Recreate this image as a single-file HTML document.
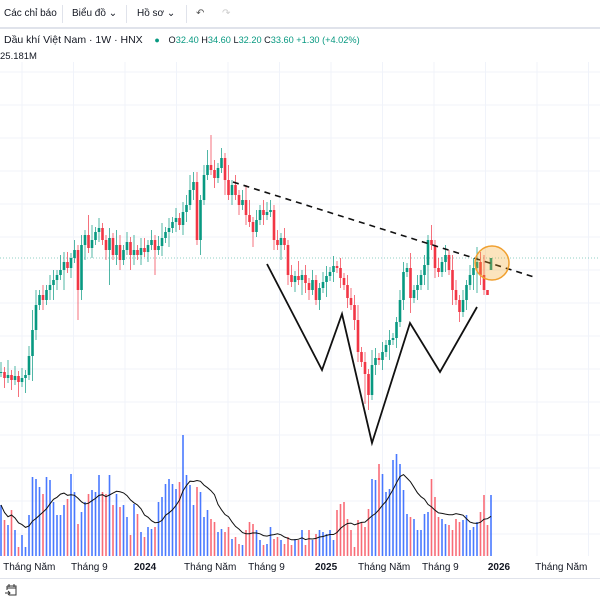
<!DOCTYPE html>
<html><head><meta charset="utf-8">
<style>
html,body{margin:0;padding:0;background:#fff;}
body{width:600px;height:600px;overflow:hidden;position:relative;font-family:"Liberation Sans",sans-serif;color:#131722;}
.tb{position:absolute;top:0;left:0;width:600px;height:27px;border-bottom:2px solid #e0e3eb;font-size:10px;}
.tb span{position:absolute;top:8px;}
.sep{position:absolute;top:5px;width:1px;height:18px;background:#e0e3eb;}
.leg{position:absolute;top:34px;left:4px;font-size:10.5px;white-space:nowrap;}
.g{color:#089981;font-size:9.2px;}
.k{color:#131722;font-size:9.2px;}
svg{position:absolute;left:0;top:0;}
</style></head><body>
<div class="tb">
  <span style="left:4px">Các chỉ báo</span>
  <div class="sep" style="left:62px"></div>
  <span style="left:72px">Biểu đồ ⌄</span>
  <div class="sep" style="left:126px"></div>
  <span style="left:137px">Hồ sơ ⌄</span>
  <div class="sep" style="left:186px"></div>
  <span style="left:196px;color:#555">↶</span>
  <span style="left:222px;color:#ccc">↷</span>
</div>
<div class="leg">Dầu khí Việt Nam · 1W · HNX &nbsp;&nbsp;&nbsp;<span style="color:#089981;font-size:9px">●</span>&nbsp;&nbsp;&nbsp;<span class="k">O</span><span class="g">32.40 </span><span class="k">H</span><span class="g">34.60 </span><span class="k">L</span><span class="g">32.20 </span><span class="k">C</span><span class="g">33.60 +1.30 (+4.02%)</span></div>
<div style="position:absolute;top:51px;left:0;font-size:9.5px">25.181M</div>
<svg id="c" width="600" height="600"></svg>
<div style="position:absolute;left:0;top:578px;width:600px;height:1px;background:#e0e3eb"></div>
<svg style="left:4px;top:583px" width="14" height="14" viewBox="0 0 14 14"><path d="M3 3h9v9H5M3 3v4M5 1v3M10 1v3M3 5h9M1 10h5M4 8l2 2-2 2" fill="none" stroke="#333" stroke-width="1"/></svg>
<script>
const closes=[22.2,21.6,21.9,21.4,21.8,21.2,21.6,21.9,23.8,26.4,28.9,29.9,29.4,30.4,30.9,31.4,31.9,32.4,33.2,32.6,33.6,34.4,30.4,34.9,35.9,34.6,35.4,36.2,36.6,35.4,34.4,35.6,33.9,34.9,33.4,34.4,35.2,33.9,34.4,33.9,34.6,34.2,34.9,35.4,34.4,34.8,35.6,36.2,36.6,37.2,37.6,36.9,38.2,38.9,40.4,41.2,35.4,39.4,41.9,42.9,42.4,41.6,42.6,43.6,41.4,39.9,40.9,39.9,38.9,39.4,37.9,37.2,36.2,37.4,38.4,37.9,38.2,38.4,35.4,34.9,35.6,34.9,31.9,31.2,31.8,31.4,31.9,31.1,30.4,31.4,29.4,30.6,31.2,31.8,32.2,32.8,32.6,31.6,30.9,29.6,28.9,27.4,24.2,23.2,22.0,19.9,22.9,23.6,23.4,24.2,24.9,25.4,25.6,27.2,29.4,32.2,32.6,29.6,30.4,30.9,31.9,32.9,35.4,34.9,32.6,32.2,33.2,33.9,32.4,30.4,29.4,28.2,29.4,30.9,31.9,32.6,33.2,31.9,30.4,29.9,33.6];
const wickUp="2131212124312122132212121431211213212131221212312121223221236212131212331212221212121312121122121212223121321212112213121213121213212122324";
const wickDn="1212131315212123214121623121212712211321212151213121221213111211312121213112112131212132211213121212122163121213121213121251211213121213521";
const vols=[51,36,31,46,26,9,21,9,41,79,77,69,62,79,76,54,41,41,51,57,82,64,32,44,54,62,66,64,81,64,62,81,51,62,49,51,39,21,52,42,24,19,29,27,29,54,59,72,77,72,67,74,121,81,71,51,69,64,39,46,37,34,24,27,24,29,17,19,12,11,26,34,32,26,16,11,12,29,17,19,16,12,19,11,17,16,26,11,26,16,22,26,24,22,26,16,46,52,54,37,26,9,36,34,29,47,77,76,92,82,64,67,96,102,92,66,42,39,37,26,26,42,44,77,59,39,37,32,31,26,37,34,36,41,26,29,34,44,61,31,61];
const xLabels=["Tháng Năm","Tháng 9","2024","Tháng Năm","Tháng 9","2025","Tháng Năm","Tháng 9","2026","Tháng Năm"];
const xLabelWeek=[0.6,20,38,52.3,70.6,89.7,102,120.3,139.1,152.6];
const lastOpen=32.40;

const svg=document.getElementById('c');const NS="http://www.w3.org/2000/svg";
function mk(t,a,p){const e=document.createElementNS(NS,t);for(const k in a)e.setAttribute(k,a[k]);(p||svg).appendChild(e);return e;}
const X=i=>1+i*3.5;
const Y=p=>258-(p-33.6)*10;
const VY=v=>556-v;
for(let gx=22;gx<600;gx+=51.5){const l=mk('line',{x1:gx,y1:62,x2:gx,y2:556,stroke:'#f0f3fa','stroke-width':1});}
for(let gy=72;gy<556;gy+=33){const l=mk('line',{x1:0,y1:gy,x2:600,y2:gy,stroke:'#f0f3fa','stroke-width':1});}
const pl=mk('line',{x1:0,y1:Y(closes[closes.length-1]),x2:600,y2:Y(closes[closes.length-1]),stroke:'#089981','stroke-width':0.8,'stroke-dasharray':'1 2',opacity:0.6});

for(let i=0;i<vols.length;i++){
  const o=i==closes.length-1?lastOpen:(i?closes[i-1]:closes[0]);const up=closes[i]>=o;
  const r=mk('rect',{x:X(i)-0.8,y:VY(vols[i]),width:1.6,height:vols[i],fill:up?'#2962ff':'#f7525f',opacity:0.85});
  
}
let pts=[];for(let i=0;i<vols.length;i++){const s=vols.slice(Math.max(0,i-9),i+1);const m=s.reduce((a,b)=>a+b,0)/s.length;pts.push(X(i).toFixed(1)+','+VY(m).toFixed(1));}
const ma=mk('polyline',{points:pts.join(' '),fill:'none',stroke:'#111','stroke-width':1});

for(let i=0;i<closes.length;i++){
  const o=i==closes.length-1?lastOpen:(i?closes[i-1]:closes[0]);const c=closes[i];const up=c>=o;
  const col=up?'#089981':'#f23645';
  const hi=Math.max(o,c)+(+wickUp[i])*0.5,lo=Math.min(o,c)-(+wickDn[i])*0.5;
  const w=mk('line',{x1:X(i),y1:Y(hi),x2:X(i),y2:Y(lo),stroke:col,'stroke-width':1,opacity:0.7});
  
  const b=mk('rect',{x:X(i)-1.3,y:Y(Math.max(o,c)),width:2.6,height:Math.max(1,Math.abs(o-c)*10),fill:col});
  
}
const pat=mk('polyline',{points:'267,264 322,370 342,314 372,443 410,323 440,372 477,307',fill:'none',stroke:'#111','stroke-width':1.8});

const tl=mk('line',{x1:233,y1:182,x2:534,y2:277,stroke:'#111','stroke-width':1.6,'stroke-dasharray':'6 5'});

const ci=mk('circle',{cx:492,cy:263,r:17,fill:'rgba(245,166,35,0.3)',stroke:'#f0a030','stroke-width':1.5});

for(let i=0;i<xLabels.length;i++){
  const bold=/^\d+$/.test(xLabels[i]);
  const t=mk('text',{x:X(xLabelWeek[i]),y:570,'font-size':10,fill:'#131722','font-weight':bold?'bold':'normal','font-family':'Liberation Sans, sans-serif'});
  t.textContent=xLabels[i];
  
}
</script>
</body></html>
